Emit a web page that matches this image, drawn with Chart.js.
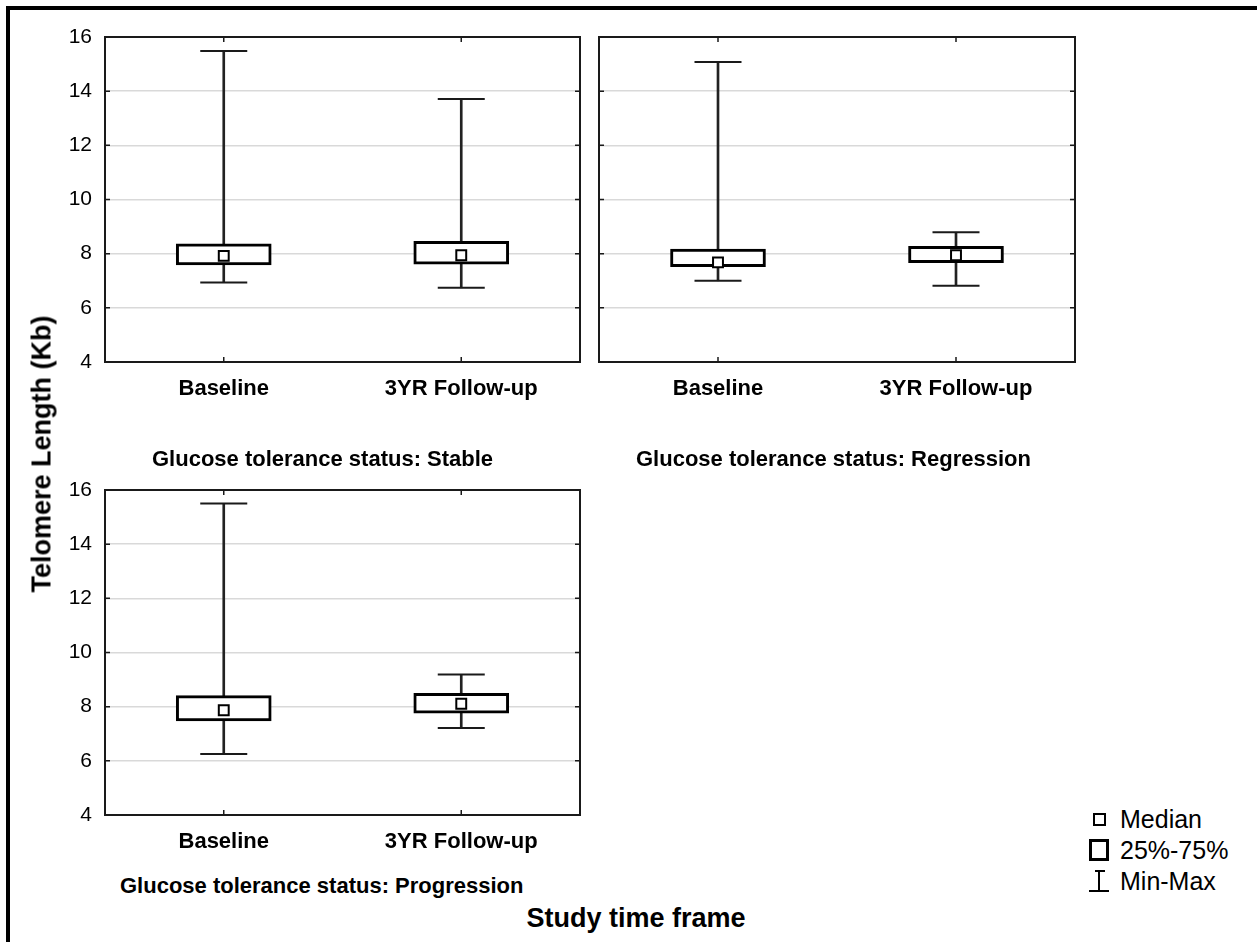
<!DOCTYPE html>
<html>
<head>
<meta charset="utf-8">
<script src="https://cdn.jsdelivr.net/npm/chart.js@4/dist/chart.umd.min.js"></script>
<style>
  html, body { margin: 0; padding: 0; background: #fff; }
  #page { position: relative; width: 1257px; height: 942px; overflow: hidden;
          font-family: "Liberation Sans", Arial, sans-serif; color: #000; }
  #frame { position: absolute; left: 6px; top: 6px; width: 1260px; height: 950px;
           border-top: 4px solid #000; border-left: 4px solid #000; }
  canvas { position: absolute; }
  .t { position: absolute; white-space: nowrap; line-height: 1; }
  .b { font-weight: bold; }
  .ico { position: absolute; box-sizing: border-box; }
</style>
</head>
<body>
<div id="page">
  <div id="frame"></div>
  <canvas id="stable" width="590" height="420" style="left:0;top:0"></canvas>
  <canvas id="regression" width="500" height="420" style="left:590px;top:0"></canvas>
  <canvas id="progression" width="590" height="420" style="left:0;top:450px"></canvas>

  <div class="t b" style="font-size:27px;left:42px;top:454px;transform:translate(-50%,-50%) rotate(-90deg);">Telomere Length (Kb)</div>
  <div class="t b" style="font-size:22px;left:152px;top:448px;">Glucose tolerance status: Stable</div>
  <div class="t b" style="font-size:22px;left:636px;top:448px;">Glucose tolerance status: Regression</div>
  <div class="t b" style="font-size:22px;left:120px;top:875px;">Glucose tolerance status: Progression</div>
  <div class="t b" style="font-size:27px;left:636px;top:918px;transform:translate(-50%,-50%);">Study time frame</div>

  <!-- legend -->
  <div class="ico" style="left:1093px;top:813px;width:13px;height:13px;border:2px solid #000;"></div>
  <div class="ico" style="left:1089px;top:839px;width:20px;height:22px;border:3px solid #000;"></div>
  <div class="ico" style="left:1095px;top:870px;width:10px;height:2px;background:#000;"></div>
  <div class="ico" style="left:1098px;top:870px;width:2px;height:21px;background:#000;"></div>
  <div class="ico" style="left:1089px;top:890px;width:20px;height:2px;background:#000;"></div>
  <div class="t" style="font-size:25px;left:1120px;top:807px;">Median</div>
  <div class="t" style="font-size:25px;left:1120px;top:838px;">25%-75%</div>
  <div class="t" style="font-size:25px;left:1120px;top:869px;">Min-Max</div>
</div>

<script>
// Study time points and telomere length summaries (Kb) per glucose tolerance group
const categories = ['Baseline', '3YR Follow-up'];
const yTickValues = [4, 6, 8, 10, 12, 14, 16];

const stableMin    = [6.94, 6.74];
const stableQ1     = [7.58, 7.61];
const stableMedian = [7.92, 7.94];
const stableQ3     = [8.36, 8.46];
const stableMax    = [15.48, 13.71];

const regressionMin    = [7.00, 6.82];
const regressionQ1     = [7.52, 7.67];
const regressionMedian = [7.68, 7.94];
const regressionQ3     = [8.17, 8.27];
const regressionMax    = [15.08, 8.79];

const progressionMin    = [6.25, 7.21];
const progressionQ1     = [7.47, 7.76];
const progressionMedian = [7.87, 8.11];
const progressionQ3     = [8.41, 8.49];
const progressionMax    = [15.50, 9.19];

const FONT = '"Liberation Sans", Arial, sans-serif';

// Panel outline plus short inward tick marks on all four sides
const panelFrame = {
  id: 'panelFrame',
  afterDraw(chart) {
    const { ctx, chartArea: a, scales: { x, y } } = chart;
    ctx.save();
    ctx.strokeStyle = '#1a1a1a';
    ctx.lineWidth = 2;
    ctx.strokeRect(a.left, a.top, a.right - a.left, a.bottom - a.top);
    ctx.lineWidth = 1.5;
    ctx.beginPath();
    y.ticks.forEach(t => {
      const py = y.getPixelForValue(t.value);
      ctx.moveTo(a.left, py);  ctx.lineTo(a.left + 5, py);
      ctx.moveTo(a.right, py); ctx.lineTo(a.right - 5, py);
    });
    x.ticks.forEach((t, i) => {
      const px = x.getPixelForTick(i);
      ctx.moveTo(px, a.top);    ctx.lineTo(px, a.top + 5);
      ctx.moveTo(px, a.bottom); ctx.lineTo(px, a.bottom - 5);
    });
    ctx.stroke();
    ctx.restore();
  }
};

function boxPanel(id, mins, q1s, meds, q3s, maxs, cfg) {
  const capStyle = {
    type: 'line', showLine: false, pointStyle: 'line', pointRadius: 23.5,
    pointBorderWidth: 2, pointBorderColor: '#1a1a1a', order: 2
  };
  return new Chart(document.getElementById(id), {
    type: 'bar',
    data: {
      labels: categories,
      datasets: [
        { type: 'bar', data: categories.map((c, i) => [mins[i], maxs[i]]),
          barThickness: 2, backgroundColor: '#222', borderWidth: 0, grouped: false, order: 4 },
        { type: 'bar', data: categories.map((c, i) => [q1s[i], q3s[i]]),
          barThickness: 95, backgroundColor: '#fff', borderColor: '#000', borderWidth: 3,
          borderSkipped: false, grouped: false, order: 3 },
        Object.assign({ data: mins }, capStyle),
        Object.assign({ data: maxs }, capStyle),
        { type: 'line', data: meds, showLine: false, pointStyle: 'rect', pointRadius: 7,
          pointBorderWidth: 2, pointBorderColor: '#000', pointBackgroundColor: '#fff', order: 1 }
      ]
    },
    options: {
      responsive: false, animation: false, devicePixelRatio: 1, events: [],
      layout: { padding: cfg.padding, autoPadding: false },
      plugins: { legend: { display: false }, tooltip: { enabled: false } },
      scales: {
        x: {
          offset: true,
          grid: { display: false, drawTicks: false },
          border: { display: false },
          ticks: { color: '#000', font: { family: FONT, size: 22, weight: 'bold' },
                   padding: 14, maxRotation: 0, autoSkip: false },
          afterFit: s => { s.height = 40; s.paddingLeft = 0; s.paddingRight = 0; }
        },
        y: {
          min: 4, max: 16,
          afterBuildTicks: s => { s.ticks = yTickValues.map(v => ({ value: v })); },
          grid: { color: '#d9d9d9', lineWidth: 1.5, drawTicks: false },
          border: { display: false },
          ticks: { display: cfg.yLabels, color: '#000', font: { family: FONT, size: 21 }, padding: 13 },
          afterFit: s => { s.width = cfg.yWidth; s.paddingTop = 0; s.paddingBottom = 0; }
        }
      }
    },
    plugins: [panelFrame]
  });
}

boxPanel('stable', stableMin, stableQ1, stableMedian, stableQ3, stableMax,
  { yLabels: true, yWidth: 60, padding: { left: 45, top: 37, right: 10, bottom: 18 } });
boxPanel('regression', regressionMin, regressionQ1, regressionMedian, regressionQ3, regressionMax,
  { yLabels: false, yWidth: 0, padding: { left: 9, top: 37, right: 15, bottom: 18 } });
boxPanel('progression', progressionMin, progressionQ1, progressionMedian, progressionQ3, progressionMax,
  { yLabels: true, yWidth: 60, padding: { left: 45, top: 40, right: 10, bottom: 15 } });
</script>
</body>
</html>
